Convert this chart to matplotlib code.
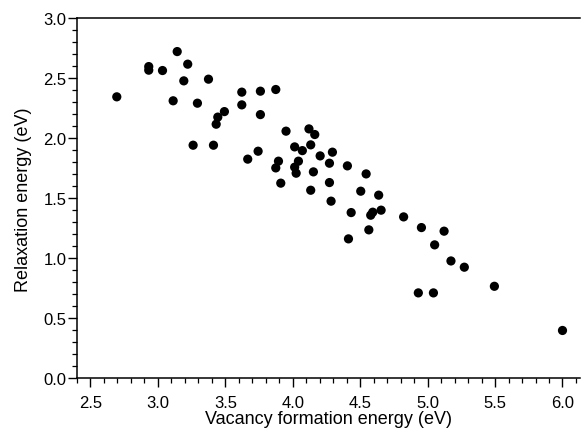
import matplotlib
matplotlib.use("Agg")
import matplotlib.pyplot as plt
from matplotlib.ticker import MultipleLocator, FormatStrFormatter

vacancy_formation = [
    2.695, 2.932, 2.932, 3.034, 3.143, 3.221, 3.192, 3.375, 3.113, 3.293,
    3.622, 3.760, 3.874, 3.622, 3.760, 3.493, 3.444, 3.432, 3.261, 3.412,
    3.950, 4.120, 4.163, 4.133, 4.014, 4.071, 4.203, 3.743, 3.666, 3.894,
    3.874, 4.042, 4.014, 4.025, 4.153, 3.911, 4.133, 4.294, 4.272, 4.405,
    4.544, 4.272, 4.284, 4.504, 4.637, 4.433, 4.593, 4.578, 4.655, 4.822,
    4.564, 4.413, 4.954, 5.122, 5.052, 5.173, 5.272, 5.495, 4.931, 5.043,
    6.000,
]
relaxation = [
    2.346, 2.598, 2.568, 2.565, 2.723, 2.618, 2.479, 2.493, 2.313, 2.293,
    2.385, 2.393, 2.407, 2.279, 2.198, 2.223, 2.177, 2.118, 1.943, 1.943,
    2.060, 2.079, 2.032, 1.946, 1.929, 1.898, 1.854, 1.893, 1.827, 1.810,
    1.754, 1.810, 1.760, 1.710, 1.721, 1.627, 1.568, 1.885, 1.793, 1.771,
    1.704, 1.632, 1.477, 1.560, 1.527, 1.382, 1.385, 1.360, 1.402, 1.346,
    1.238, 1.163, 1.257, 1.227, 1.113, 0.979, 0.927, 0.768, 0.713, 0.713,
    0.400,
]

x_label = "Vacancy formation energy (eV)"
y_label = "Relaxation energy (eV)"

plt.rcParams['font.family'] = ['Liberation Sans', 'DejaVu Sans']

fig = plt.figure(figsize=(5.82, 4.31), dpi=100)
ax = fig.add_axes([0.1323, 0.1195, 0.8643, 0.8357])

ax.scatter(vacancy_formation, relaxation, s=44, color='black', edgecolors='none', zorder=3)

ax.set_xlim(2.4, 6.13)
ax.set_ylim(0.0, 3.0)

ax.xaxis.set_major_locator(MultipleLocator(0.5))
ax.xaxis.set_minor_locator(MultipleLocator(0.1))
ax.yaxis.set_major_locator(MultipleLocator(0.5))
ax.yaxis.set_minor_locator(MultipleLocator(0.1))
ax.xaxis.set_major_formatter(FormatStrFormatter('%.1f'))
ax.yaxis.set_major_formatter(FormatStrFormatter('%.1f'))

ax.spines['right'].set_visible(False)
for s in ['left', 'bottom', 'top']:
    ax.spines[s].set_linewidth(1.1)
    ax.spines[s].set_color('black')

ax.tick_params(which='major', direction='out', length=6.5, width=1.0, labelsize=12, colors='black')
ax.tick_params(which='minor', direction='out', length=3.5, width=0.9, colors='black')
ax.tick_params(axis='x', which='major', pad=5.5)
ax.tick_params(axis='y', which='major', pad=1)
ax.tick_params(axis='x', which='both', top=False)
ax.tick_params(axis='y', which='both', right=False)

ax.set_xlabel(x_label, fontsize=13, labelpad=0)
ax.set_ylabel(y_label, fontsize=13, labelpad=8)

fig.savefig("out.png", dpi=100)
